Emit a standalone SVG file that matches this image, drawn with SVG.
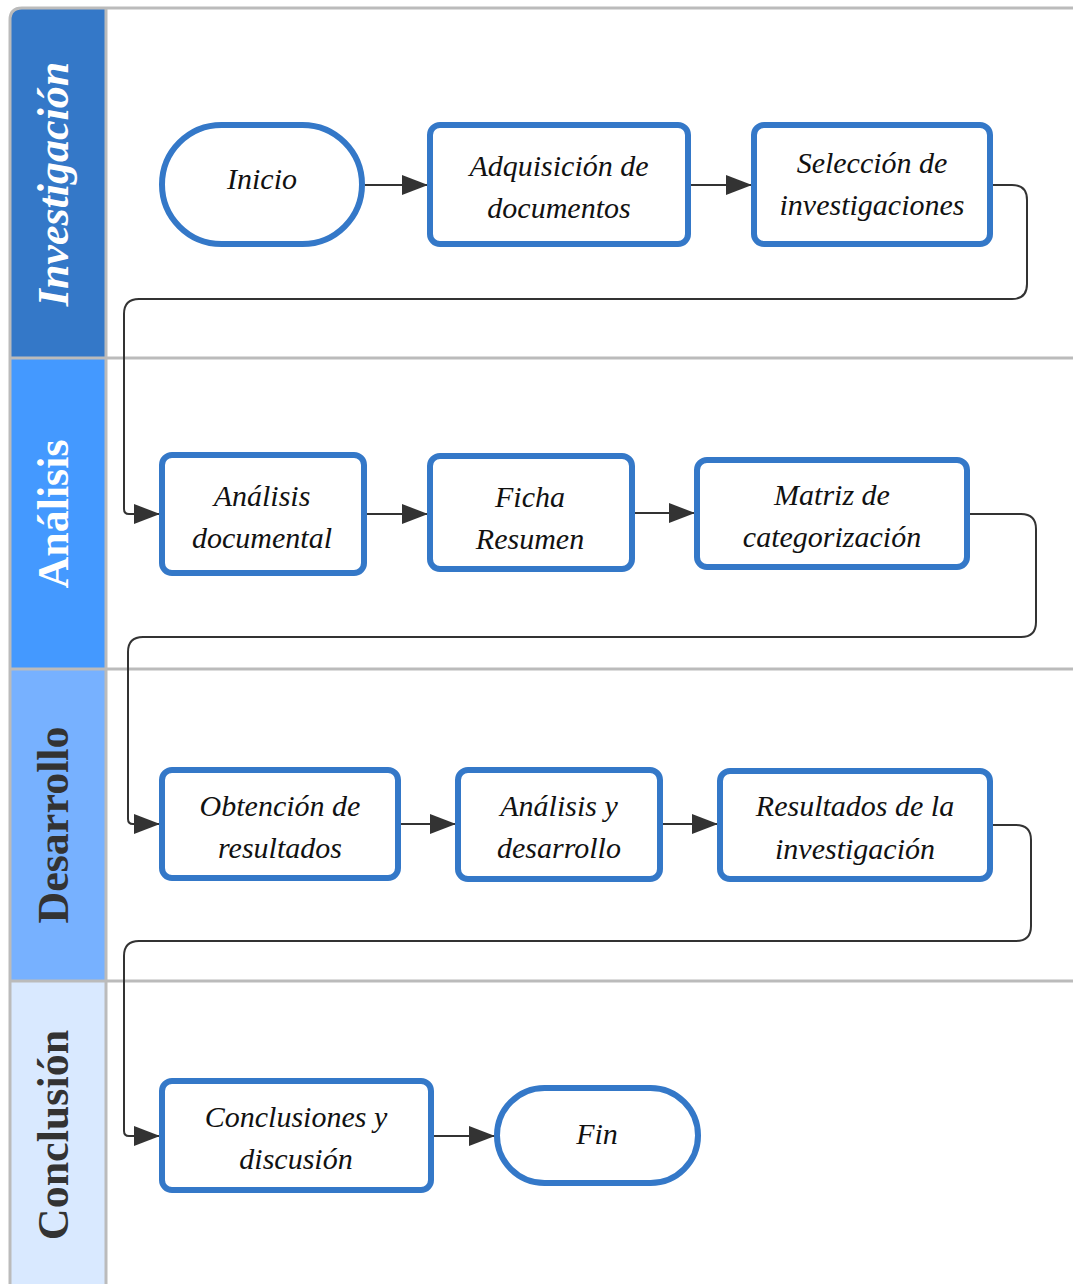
<svg xmlns="http://www.w3.org/2000/svg" width="1073" height="1284" viewBox="0 0 1073 1284">
<defs>
<style>
.node{fill:#fff;stroke:#3478C8;stroke-width:6}
.t{font-family:"Liberation Serif",serif;font-style:italic;font-size:30px;fill:#111;text-anchor:middle}
.h{font-family:"Liberation Serif",serif;font-weight:bold;font-size:44px;text-anchor:middle}
.c{fill:none;stroke:#333;stroke-width:2}
.lane{stroke:#bbb;stroke-width:3}
</style>
<marker id="ah" markerWidth="26" markerHeight="20" refX="26" refY="10" orient="auto" markerUnits="userSpaceOnUse">
<path d="M0,0 L26,10 L0,20 Z" fill="#333"/>
</marker>
</defs>
<rect width="1073" height="1284" fill="#fff"/>
<g id="lanes">
<path d="M10,1284 V20 Q10,8 22,8 H106 V358 H10 Z" fill="#3478C8"/>
<rect x="10" y="358" width="96" height="311" fill="#4499FF"/>
<rect x="10" y="669" width="96" height="312" fill="#77B1FF"/>
<rect x="10" y="981" width="96" height="303" fill="#D9E9FF"/>
<path d="M10,1290 V20 Q10,8 22,8 H1080" class="lane" fill="none"/>
<line x1="106" y1="8" x2="106" y2="1290" class="lane"/>
<line x1="10" y1="358" x2="1080" y2="358" class="lane"/>
<line x1="10" y1="669" x2="1080" y2="669" class="lane"/>
<line x1="10" y1="981" x2="1080" y2="981" class="lane"/>
<text class="h" fill="#fff" font-style="italic" transform="translate(68,184) rotate(-90)">Investigación</text>
<text class="h" fill="#fff" transform="translate(68,514) rotate(-90)">Análisis</text>
<text class="h" fill="#333" transform="translate(68,825) rotate(-90)">Desarrollo</text>
<text class="h" fill="#333" transform="translate(68,1135) rotate(-90)">Conclusión</text>
</g>
<g id="connectors">
<line class="c" x1="365" y1="185" x2="428" y2="185" marker-end="url(#ah)"/>
<line class="c" x1="690" y1="185" x2="752" y2="185" marker-end="url(#ah)"/>
<path class="c" d="M992,185 H1012 Q1027,185 1027,200 V284 Q1027,299 1012,299 H139 Q124,299 124,314 V509 Q124,514 129,514 H160" marker-end="url(#ah)"/>
<line class="c" x1="366" y1="514" x2="428" y2="514" marker-end="url(#ah)"/>
<line class="c" x1="634" y1="513" x2="695" y2="513" marker-end="url(#ah)"/>
<path class="c" d="M969,514 H1021 Q1036,514 1036,529 V622 Q1036,637 1021,637 H143 Q128,637 128,652 V819 Q128,824 133,824 H160" marker-end="url(#ah)"/>
<line class="c" x1="400" y1="824" x2="456" y2="824" marker-end="url(#ah)"/>
<line class="c" x1="662" y1="824" x2="718" y2="824" marker-end="url(#ah)"/>
<path class="c" d="M992,825 H1016 Q1031,825 1031,840 V926 Q1031,941 1016,941 H139 Q124,941 124,956 V1131 Q124,1136 129,1136 H160" marker-end="url(#ah)"/>
<line class="c" x1="433" y1="1136" x2="495" y2="1136" marker-end="url(#ah)"/>
</g>
<g id="n-inicio"><rect class="node" x="162" y="125" width="200" height="119" rx="59.5"/><text class="t" x="262" y="189">Inicio</text></g>
<g id="n-adquisicion"><rect class="node" x="430" y="125" width="258" height="119" rx="10"/><text class="t" x="559" y="176">Adquisición de</text><text class="t" x="559" y="218">documentos</text></g>
<g id="n-seleccion"><rect class="node" x="754" y="125" width="236" height="119" rx="10"/><text class="t" x="872" y="173">Selección de</text><text class="t" x="872" y="215">investigaciones</text></g>
<g id="n-analisisdoc"><rect class="node" x="162" y="455" width="202" height="118" rx="10"/><text class="t" x="262" y="506">Análisis</text><text class="t" x="262" y="548">documental</text></g>
<g id="n-ficha"><rect class="node" x="430" y="456" width="202" height="113" rx="10"/><text class="t" x="530" y="507">Ficha</text><text class="t" x="530" y="549">Resumen</text></g>
<g id="n-matriz"><rect class="node" x="697" y="460" width="270" height="107" rx="10"/><text class="t" x="832" y="505">Matriz de</text><text class="t" x="832" y="547">categorización</text></g>
<g id="n-obtencion"><rect class="node" x="162" y="770" width="236" height="108" rx="10"/><text class="t" x="280" y="816">Obtención de</text><text class="t" x="280" y="858">resultados</text></g>
<g id="n-analisisdes"><rect class="node" x="458" y="770" width="202" height="109" rx="10"/><text class="t" x="559" y="816">Análisis y</text><text class="t" x="559" y="858">desarrollo</text></g>
<g id="n-resultados"><rect class="node" x="720" y="771" width="270" height="108" rx="10"/><text class="t" x="855" y="816">Resultados de la</text><text class="t" x="855" y="859">investigación</text></g>
<g id="n-conclusiones"><rect class="node" x="162" y="1081" width="269" height="109" rx="10"/><text class="t" x="296" y="1127">Conclusiones y</text><text class="t" x="296" y="1169">discusión</text></g>
<g id="n-fin"><rect class="node" x="497" y="1088" width="201" height="95" rx="47.5"/><text class="t" x="597" y="1144">Fin</text></g>
</svg>
